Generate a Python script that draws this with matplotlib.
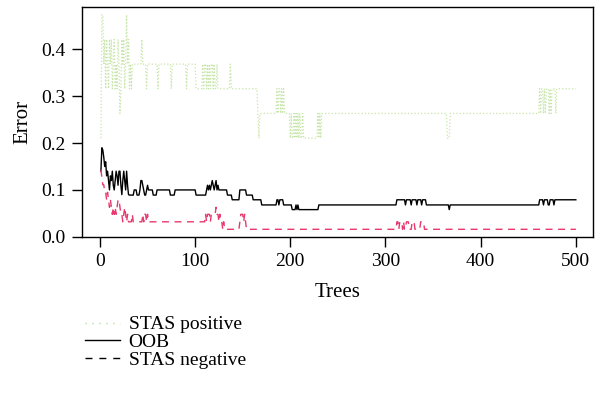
import numpy as np
import matplotlib
matplotlib.use("Agg")
import matplotlib.pyplot as plt
from matplotlib.lines import Line2D

plt.rcParams['font.family'] = ['Liberation Serif', 'DejaVu Serif']

# ---------------- data (run-length: start tree, value) ----------------
oob_starts = [1, 2, 3, 4, 5, 6, 7, 8, 9, 10, 11, 12, 13, 14, 15, 16, 17, 18, 19, 20,
              22, 23, 24, 25, 26, 27, 28, 29, 30, 31, 36, 39, 42, 43, 45, 46, 47, 49, 50, 51,
              56, 60, 74, 79, 101, 112, 113, 114, 115, 116, 117, 118, 119, 120, 121, 122, 123,
              124, 125, 129, 131, 134, 139, 147, 154, 161, 170, 186, 188, 189, 193, 202, 206,
              207, 208, 209, 230, 312, 321, 322, 327, 328, 333, 334, 338, 339, 343, 367, 368,
              462, 466, 467, 471, 473, 477, 478]
oob_values = [0.14, 0.19, 0.185, 0.17, 0.15, 0.16, 0.13, 0.14, 0.12, 0.10, 0.13, 0.12, 0.14,
              0.11, 0.10, 0.12, 0.14, 0.13, 0.11, 0.14,
              0.11, 0.09, 0.12, 0.14, 0.12, 0.10, 0.14, 0.11, 0.09, 0.089, 0.10, 0.089, 0.10,
              0.12, 0.11, 0.10, 0.089, 0.10, 0.11, 0.10,
              0.089, 0.10, 0.089, 0.10, 0.089, 0.10, 0.11, 0.10, 0.11, 0.10, 0.11, 0.12, 0.11,
              0.10, 0.11, 0.12, 0.10,
              0.11, 0.10, 0.10, 0.10, 0.089, 0.079, 0.10, 0.089, 0.079, 0.068, 0.079, 0.068,
              0.079, 0.068, 0.058, 0.068,
              0.058, 0.068, 0.058, 0.068, 0.079, 0.068, 0.079, 0.068, 0.079, 0.068, 0.079,
              0.068, 0.079, 0.068, 0.058, 0.068,
              0.079, 0.068, 0.079, 0.068, 0.079, 0.068, 0.079]

neg_starts = [1, 2, 3, 5, 7, 8, 9, 10, 11, 12, 13, 14, 15, 16, 17, 18, 19, 21, 22, 24, 25, 26,
              27, 28, 29, 30, 34, 35, 45, 46, 47, 49, 50, 51, 111, 112, 113, 116, 117, 122, 123,
              125, 126, 127, 129, 130, 131, 147, 148, 151, 152, 153, 154, 312, 314, 315, 318,
              319, 320, 322, 325, 328, 331, 337, 341]
neg_values = [0.143, 0.127, 0.111, 0.095, 0.079, 0.095, 0.079, 0.063, 0.079, 0.063, 0.048,
              0.063, 0.048, 0.063, 0.048, 0.063, 0.079, 0.063, 0.048, 0.032, 0.048, 0.063,
              0.048, 0.032, 0.048, 0.032, 0.048, 0.032, 0.048, 0.032, 0.048, 0.032, 0.048,
              0.032, 0.048, 0.032, 0.048, 0.032, 0.048, 0.063, 0.048,
              0.032, 0.048, 0.032, 0.016, 0.032, 0.016, 0.032, 0.048, 0.032, 0.048, 0.032,
              0.016, 0.032, 0.016, 0.032, 0.016,
              0.032, 0.016, 0.032, 0.016, 0.032, 0.016, 0.032, 0.016]

pos_starts = [1, 2, 4, 5, 6, 7, 8, 9, 10, 11, 12, 13, 14, 15, 16, 17, 18, 19, 20, 21, 22, 23,
              24, 25, 26, 27, 28, 29, 30, 31, 32, 33, 34, 44, 45, 49, 50, 61, 62, 75, 76, 91,
              92, 101, 108, 109, 110, 112, 113, 114, 115, 116, 117, 119, 120, 121, 123, 124,
              137, 138, 166, 167, 168, 186, 187, 188, 190, 191, 192, 193, 194, 200, 201, 202,
              204, 205, 206, 207, 208, 209, 210, 211, 213, 214, 229, 230, 231, 232, 233, 365,
              368, 462, 463, 464, 466, 467, 468, 469, 472, 473, 474, 475, 479, 480]
pos_values = [0.2105, 0.4737, 0.3684, 0.4211, 0.3158, 0.4211, 0.3684, 0.3158, 0.4211, 0.3684,
              0.4211, 0.3158, 0.3684, 0.4211, 0.3158, 0.3684, 0.3158, 0.4211, 0.3684, 0.2632,
              0.3158, 0.4211,
              0.3684, 0.4211, 0.3158, 0.3684, 0.4737, 0.3684, 0.4211, 0.3158, 0.3684, 0.3158,
              0.3684, 0.4211, 0.3684, 0.3158, 0.3684, 0.3158, 0.3684, 0.3158, 0.3684, 0.3158,
              0.3684, 0.3158, 0.3684, 0.3158, 0.3684, 0.3158, 0.3684, 0.3158, 0.3684, 0.3158,
              0.3684, 0.3158, 0.3684, 0.3158, 0.3684, 0.3158,
              0.3684, 0.3158, 0.2632, 0.2105, 0.2632, 0.3158, 0.2632, 0.3158, 0.2632, 0.3158,
              0.2632, 0.3158, 0.2632, 0.2105, 0.2632, 0.2105,
              0.2632, 0.2105, 0.2632, 0.2105, 0.2632, 0.2105, 0.2632, 0.2105, 0.2632, 0.2105,
              0.2632, 0.2105, 0.2632, 0.2105, 0.2632, 0.2105,
              0.2632, 0.3158, 0.2632, 0.3158, 0.2632, 0.3158, 0.2632, 0.3158, 0.2632, 0.3158,
              0.2632, 0.3158, 0.2632, 0.3158]

n_trees = 500
trees = np.arange(1, n_trees + 1)


def expand(starts, values):
    idx = np.searchsorted(np.array(starts), trees, side='right') - 1
    return np.array(values)[idx]


oob = expand(oob_starts, oob_values)
neg = expand(neg_starts, neg_values)
pos = expand(pos_starts, pos_values)

# ---------------- plot ----------------
fig = plt.figure(figsize=(6.02, 3.96), dpi=100)
ax = fig.add_axes([0.136, 0.402, 0.849, 0.580])

green = '#c6e5a8'
pink = '#e8386e'
ax.plot(trees, pos, color=green, linestyle=':', linewidth=0.9)
ax.plot(trees, oob, color='black', linestyle='-', linewidth=1.0)
ax.plot(trees, neg, color=pink, linestyle=(0, (5, 4)), linewidth=1.0)

ax.set_xlim(-19, 518)
ax.set_ylim(0, 0.49)
ax.set_xticks([0, 100, 200, 300, 400, 500])
ax.set_yticks([0.0, 0.1, 0.2, 0.3, 0.4])
ax.set_yticklabels(['0.0', '0.1', '0.2', '0.3', '0.4'])
ax.tick_params(direction='out', length=7, width=1, labelsize=14, pad=5)
for s in ax.spines.values():
    s.set_linewidth(1.0)
ax.set_xlabel('Trees', fontsize=15, labelpad=9)
ax.set_ylabel('Error', fontsize=15, labelpad=6)

handles = [Line2D([], [], color='#b9df9b', linestyle=(0, (1, 4)), linewidth=1.0),
           Line2D([], [], color='black', linestyle='-', linewidth=1.0),
           Line2D([], [], color='black', linestyle=(0, (5, 5)), linewidth=1.0)]
labels = ['STAS positive', 'OOB', 'STAS negative']
fig.legend(handles, labels, loc='upper left', bbox_to_anchor=(0.128, 0.222),
           frameon=False, fontsize=14, handlelength=1.8, handletextpad=0.45,
           labelspacing=0.0, borderaxespad=0)

fig.savefig('out.png', dpi=100)
